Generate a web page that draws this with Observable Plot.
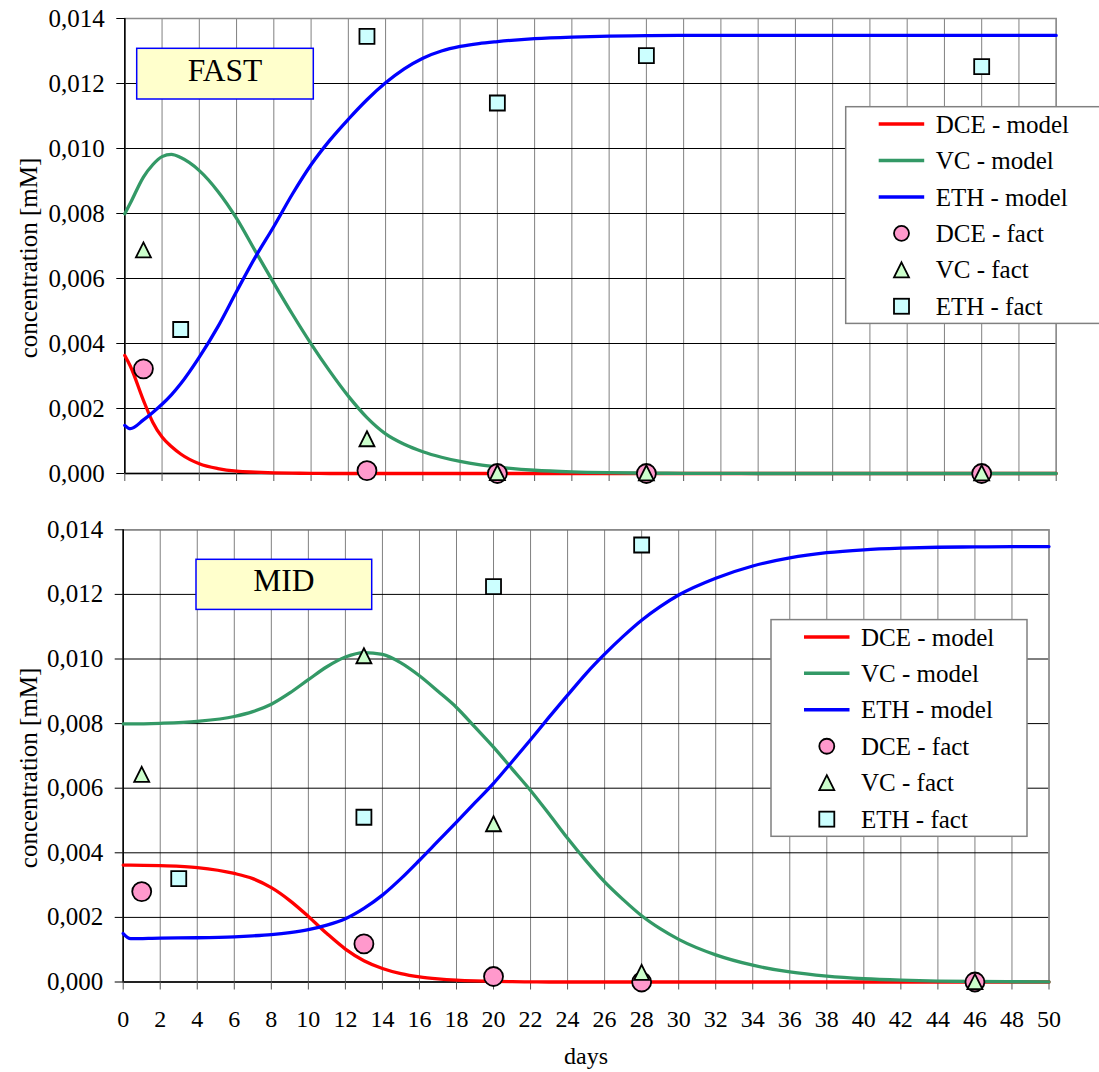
<!DOCTYPE html>
<html><head><meta charset="utf-8">
<script src="https://cdn.jsdelivr.net/npm/d3@7"></script>
<script src="https://cdn.jsdelivr.net/npm/@observablehq/plot@0.6"></script>
<style>
body{margin:0;background:#fff;}
#wrap{position:relative;width:1099px;height:1072px;overflow:hidden;background:#fff;font-family:'Liberation Serif','Times New Roman',serif;}
#wrap svg text{font-family:'Liberation Serif','Times New Roman',serif !important;}
#top{position:absolute;left:0;top:0;}
#bot{position:absolute;left:0;top:500px;}
</style></head>
<body><div id="wrap"><div id="top"></div><div id="bot"></div></div>
<script>
// ---------- data ----------
const xTicks = [0,2,4,6,8,10,12,14,16,18,20,22,24,26,28,30,32,34,36,38,40,42,44,46,48,50];
const yTicks = [0, 0.002, 0.004, 0.006, 0.008, 0.010, 0.012, 0.014];
const panelNames = ["FAST", "MID"];
const legendLabels = ["DCE - model", "VC - model", "ETH - model", "DCE - fact", "VC - fact", "ETH - fact"];

// FAST model curves
const fastDays = [0,0.3,1,1.5,2,2.5,3,4,5,6,7,8,9,10,11,12,13,14,15,16,17,18,19,20,22,24,26,28,30,32,34,36,38,40,42,44,46,48,50];
const fastDCE = [0.00363,0.0033,0.00225,0.00158,0.00112,0.00083,0.0006,0.0003,0.00015,0.00007,0.00004,0.00002,0.00001,0.000005,0,0,0,0,0,0,0,0,0,0,0,0,0,0,0,0,0,0,0,0,0,0,0,0,0];
const fastVC = [0.00799,0.00832,0.00912,0.0095,0.00975,0.00982,0.00972,0.00932,0.00868,0.00785,0.00685,0.00586,0.0049,0.00399,0.00315,0.00238,0.00172,0.00122,0.0009,0.00067,0.0005,0.00037,0.00027,0.0002,0.0001,0.00005,0.000025,0.000012,0.000006,0.000003,0,0,0,0,0,0,0,0,0];
const fastETH = [0.00148,0.00138,0.00165,0.00188,0.00213,0.00242,0.00276,0.00358,0.00452,0.0056,0.00665,0.0076,0.0086,0.0095,0.01025,0.0109,0.0115,0.01202,0.01245,0.01278,0.013,0.01314,0.01323,0.01329,0.01338,0.01343,0.01346,0.01347,0.01348,0.01348,0.01348,0.01348,0.01348,0.01348,0.01348,0.01348,0.01348,0.01348,0.01348];
// FAST measured
const factDays = [1, 13, 20, 28, 46];
const fastDCEFact = [0.00322, 0.00009, 0, 0, 0];
const fastVCFact = [0.00688, 0.00107, 0.00003, 0.00002, 0.00002];
const fastETHDays = [3, 13, 20, 28, 46];
const fastETHFact = [0.00443, 0.01345, 0.0114, 0.01286, 0.01252];

// MID model curves
const midDays = [0,0.4,2,4,6,7,8,9,10,11,12,13,14,15,16,17,18,19,20,21,22,23,24,25,26,27,28,29,30,32,34,36,38,40,42,44,46,48,50];
const midDCE = [0.00362,0.00362,0.0036,0.00354,0.00336,0.0032,0.00292,0.00252,0.00203,0.0015,0.00102,0.00066,0.00042,0.00026,0.00016,0.0001,0.00006,0.000035,0.00002,0.00001,0.000005,0,0,0,0,0,0,0,0,0,0,0,0,0,0,0,0,0,0];
const midVC = [0.00799,0.00799,0.00801,0.00807,0.00822,0.00837,0.0086,0.00895,0.00936,0.00976,0.01006,0.0102,0.01014,0.00988,0.00948,0.009,0.0085,0.00789,0.00727,0.0066,0.00593,0.0052,0.00445,0.00375,0.0031,0.00255,0.00205,0.00165,0.00132,0.00084,0.00052,0.00031,0.00018,0.0001,0.000055,0.00003,0.000015,0.000008,0.000004];
const midETH = [0.0015,0.00134,0.00136,0.00137,0.0014,0.00143,0.00147,0.00153,0.00162,0.00176,0.00196,0.00228,0.00269,0.0032,0.00377,0.00436,0.00495,0.00555,0.00615,0.00682,0.0075,0.0082,0.00888,0.00955,0.01015,0.0107,0.0112,0.01162,0.01198,0.0125,0.01288,0.01313,0.01329,0.01338,0.01343,0.01346,0.01347,0.01348,0.01348];
// MID measured
const midDCEFact = [0.0028, 0.00118, 0.00017, 0, 0];
const midVCFact = [0.00643, 0.0101, 0.0049, 0.0003, 0.00001];
const midETHDays = [3, 13, 20, 28];
const midETHFact = [0.0032, 0.0051, 0.01224, 0.01353];

// ---------- styles ----------
const lineColor = {DCE: "#ff0000", VC: "#339966", ETH: "#0000ff"};
const markFill = {DCE: "#ff99cc", VC: "#ccffcc", ETH: "#ccffff"};
const FONT = "'Liberation Serif', 'Times New Roman', serif";
const fmt = d3.formatLocale({decimal: ",", thousands: ".", grouping: [3], currency: ["", ""]}).format(".3f");

const triSym = {draw(ctx, size) { const r = Math.sqrt(size / Math.PI); ctx.moveTo(0, -r); ctx.lineTo(r, r); ctx.lineTo(-r, r); ctx.closePath(); }};
const sqSym = {draw(ctx, size) { const r = Math.sqrt(size / Math.PI); ctx.moveTo(-r, -r); ctx.lineTo(r, -r); ctx.lineTo(r, r); ctx.lineTo(-r, r); ctx.closePath(); }};

const toRows = (days, vals) => days.map((d, i) => ({day: d, value: vals[i]}));

function panel(o) {
  const modelLines = [["DCE", o.dce], ["VC", o.vc], ["ETH", o.eth]].map(([k, v]) =>
    Plot.line(toRows(o.days, v), {x: "day", y: "value", stroke: lineColor[k], strokeWidth: 3.3, curve: "monotone-x"}));
  const marks = [
    Plot.gridX(xTicks, {stroke: "#808080", strokeOpacity: 1, strokeWidth: 1}),
    Plot.gridY(yTicks, {stroke: "#000", strokeOpacity: 1, strokeWidth: 1}),
    Plot.frame({stroke: "#8c8c8c", strokeWidth: 1.5}),
    Plot.ruleX([0], {stroke: "#000", strokeWidth: 1.5}),
    Plot.ruleY([0], {stroke: "#000", strokeWidth: 1.5}),
    Plot.axisY(yTicks, {tickSize: 8, tickPadding: 12, tickFormat: fmt, fontSize: 25, label: null}),
    Plot.axisX(xTicks, {tickSize: 8, tickPadding: 20, tickFormat: o.xLabels ? (d => String(d)) : (() => ""), fontSize: 24, label: null, stroke: "#555"}),
    Plot.text(["concentration [mM]"], {frameAnchor: "left", textAnchor: "middle", lineAnchor: "middle", rotate: -90, dx: o.ylabDx, dy: 12, fontSize: 25}),
    ...modelLines,
    Plot.dot(toRows(factDays, o.dceF), {x: "day", y: "value", symbol: "circle", r: 9.5, fill: markFill.DCE, stroke: "#000", strokeWidth: 1.8}),
    Plot.dot(toRows(factDays, o.vcF), {x: "day", y: "value", symbol: triSym, r: 7.5, fill: markFill.VC, stroke: "#000", strokeWidth: 1.8}),
    Plot.dot(toRows(o.ethDays, o.ethF), {x: "day", y: "value", symbol: sqSym, r: 7.5, fill: markFill.ETH, stroke: "#000", strokeWidth: 1.8})
  ];
  if (o.xLabels) marks.push(Plot.text(["days"], {frameAnchor: "bottom", textAnchor: "middle", lineAnchor: "middle", dy: 74, fontSize: 24}));
  return Plot.plot({
    width: 1099, height: o.height,
    marginTop: o.mt, marginBottom: o.mb, marginLeft: o.ml, marginRight: o.mr,
    x: {domain: [0, 50]}, y: {domain: [0, 0.014]},
    style: {fontFamily: FONT, fontSize: "24px", background: "transparent", color: "#000", overflow: "visible"},
    marks
  });
}

document.getElementById("top").append(panel({
  height: 500, mt: 18, mb: 27, ml: 124.3, mr: 43.3, xLabels: false, ylabDx: -96,
  days: fastDays, dce: fastDCE, vc: fastVC, eth: fastETH,
  dceF: fastDCEFact, vcF: fastVCFact, ethDays: fastETHDays, ethF: fastETHFact
}));
document.getElementById("bot").append(panel({
  height: 572, mt: 29.3, mb: 90.5, ml: 122.7, mr: 50.5, xLabels: true, ylabDx: -94.7,
  days: midDays, dce: midDCE, vc: midVC, eth: midETH,
  dceF: midDCEFact, vcF: midVCFact, ethDays: midETHDays, ethF: midETHFact
}));

// ---------- overlay: panel labels and legends ----------
const ov = d3.select("#wrap").append("svg")
  .attr("width", 1099).attr("height", 1072)
  .style("position", "absolute").style("left", "0px").style("top", "0px")
  .style("font-family", FONT);

function labelBox(x, y, w, h, baseline, text) {
  ov.append("rect").attr("x", x).attr("y", y).attr("width", w).attr("height", h)
    .attr("fill", "#ffffcc").attr("stroke", "#0000ff").attr("stroke-width", 1.5);
  ov.append("text").attr("x", x + w / 2).attr("y", baseline).attr("text-anchor", "middle")
    .style("font-size", "31.5px").attr("fill", "#000").text(text);
}
labelBox(136.7, 48.3, 176.6, 50.7, 80.5, panelNames[0]);
labelBox(196, 559.3, 175.7, 50.1, 590.5, panelNames[1]);

function legend(x, y) {
  const w = 256, h = 216.7, row0 = y + 17.3, step = 36.45;
  ov.append("rect").attr("x", x).attr("y", y).attr("width", w).attr("height", h)
    .attr("fill", "#fff").attr("stroke", "#808080").attr("stroke-width", 1.5);
  const keys = ["DCE", "VC", "ETH"];
  legendLabels.forEach((lab, i) => {
    const cy = row0 + i * step, k = keys[i % 3], mx = x + 55.8;
    if (i < 3) {
      ov.append("line").attr("x1", x + 33).attr("x2", x + 78.5).attr("y1", cy).attr("y2", cy)
        .attr("stroke", lineColor[k]).attr("stroke-width", 3.5);
    } else if (k === "DCE") {
      ov.append("circle").attr("cx", mx).attr("cy", cy).attr("r", 7.5)
        .attr("fill", markFill.DCE).attr("stroke", "#000").attr("stroke-width", 1.8);
    } else if (k === "VC") {
      ov.append("path").attr("d", `M${mx},${cy - 7.5}L${mx + 7.5},${cy + 7.5}L${mx - 7.5},${cy + 7.5}Z`)
        .attr("fill", markFill.VC).attr("stroke", "#000").attr("stroke-width", 1.8);
    } else {
      ov.append("rect").attr("x", mx - 7.5).attr("y", cy - 7.5).attr("width", 15).attr("height", 15)
        .attr("fill", markFill.ETH).attr("stroke", "#000").attr("stroke-width", 1.8);
    }
    ov.append("text").attr("x", x + 90).attr("y", cy + 8.6).style("font-size", "25px").attr("fill", "#000").text(lab);
  });
}
legend(845.7, 106.7);
legend(771, 619.6);
</script>
</body></html>
